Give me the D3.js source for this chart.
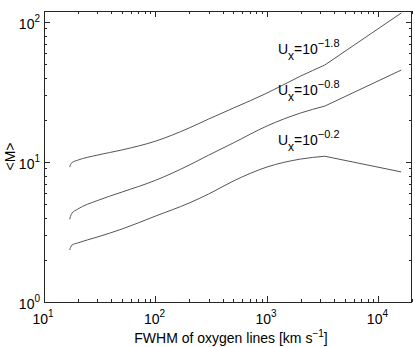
<!DOCTYPE html>
<html><head><meta charset="utf-8">
<script src="https://cdn.jsdelivr.net/npm/d3@7"></script>
<style>body{margin:0;background:#fff}svg{display:block}text{font-family:"Liberation Sans",Arial,sans-serif;fill:#000}</style>
</head><body>
<script>
const fwhm = [17, 17.3, 17.8, 20, 30, 50, 100, 200, 300, 500, 1000, 2000, 3300, 16000];
const mTop = [9.2, 9.6, 9.9, 10.3, 11.2, 12.2, 14.1, 17.5, 20.3, 24.3, 31.1, 41.1, 49.3, 116];
const mMid = [3.9, 4.1, 4.3, 4.6, 5.3, 6.1, 7.4, 9.5, 11.2, 13.7, 18.1, 22.4, 25.1, 45.4];
const mBot = [2.35, 2.45, 2.55, 2.64, 2.91, 3.32, 4.11, 5.09, 5.91, 7.32, 9.21, 10.5, 11.0, 8.5];
const seriesLabels = [["-1.8", 49.3], ["-0.8", 25.1], ["-0.2", 11.0]];
const xTicks = [10, 100, 1000, 10000];
const yTicks = [1, 10, 100];
const xTitle = "FWHM of oxygen lines [km s";
const yTitle = "<M>";

const W = 415, H = 347;
const m = {l: 44, r: 3, t: 11, b: 45};
const svg = d3.select("body").append("svg").attr("width", W).attr("height", H);
const x = d3.scaleLog().domain([10, 2e4]).range([m.l, W - m.r]);
const y = d3.scaleLog().domain([1, 120]).range([H - m.b, m.t]);
const x0 = m.l, x1 = W - m.r, y0 = H - m.b, y1 = m.t;
const axisCol = "#262626";

const g = svg.append("g").attr("stroke", axisCol).attr("stroke-width", 1);
function minorVals(lo, hi) {
  const v = [];
  for (let d = Math.floor(Math.log10(lo)); d <= Math.ceil(Math.log10(hi)); d++)
    for (let k = 1; k < 10; k++) { const t = k * Math.pow(10, d); if (t >= lo && t <= hi) v.push([t, k === 1]); }
  return v;
}
minorVals(10, 2e4).forEach(([t, maj]) => {
  const px = Math.round(x(t)) + 0.5, L = maj ? 6 : 3;
  g.append("line").attr("x1", px).attr("x2", px).attr("y1", y0).attr("y2", y0 - L);
  g.append("line").attr("x1", px).attr("x2", px).attr("y1", y1).attr("y2", y1 + L);
});
minorVals(1, 120).forEach(([t, maj]) => {
  const py = Math.round(y(t)) + 0.5, L = maj ? 6 : 3;
  g.append("line").attr("x1", x0).attr("x2", x0 + L).attr("y1", py).attr("y2", py);
  g.append("line").attr("x1", x1).attr("x2", x1 - L).attr("y1", py).attr("y2", py);
});
svg.append("rect").attr("x", x0 + 0.5).attr("y", y1 + 0.5).attr("width", x1 - x0 - 1).attr("height", y0 - y1)
  .attr("fill", "none").attr("stroke", axisCol).attr("stroke-width", 1);

function pow10(sel, e) {
  sel.append("tspan").text("10");
  sel.append("tspan").attr("dy", -7).attr("font-size", 10).text(e);
}
xTicks.forEach(t => {
  const tx = svg.append("text").attr("x", x(t) - 1).attr("y", y0 + 22).attr("font-size", 14).attr("text-anchor", "middle");
  pow10(tx, Math.round(Math.log10(t)));
});
yTicks.forEach(t => {
  const tx = svg.append("text").attr("x", x0 - 4).attr("y", y(t) + 7).attr("font-size", 14).attr("text-anchor", "end");
  pow10(tx, Math.round(Math.log10(t)));
});

const xt = svg.append("text").attr("x", (x0 + x1) / 2 + 3).attr("y", H - 4).attr("font-size", 14).attr("text-anchor", "middle");
xt.append("tspan").text(xTitle);
xt.append("tspan").attr("dy", -6).attr("font-size", 10).text("\u22121");
xt.append("tspan").attr("dy", 6).text("]");
svg.append("text").attr("transform", `translate(15,${(y0 + y1) / 2}) rotate(-90)`).attr("font-size", 14)
  .attr("text-anchor", "middle").text(yTitle);

// curves: smooth up to the kink, straight after it
const k = fwhm.length - 2;
const smooth = d3.line().curve(d3.curveMonotoneX).x(d => x(d[0])).y(d => y(d[1]));
const straight = d3.line().x(d => x(d[0])).y(d => y(d[1]));
[mTop, mMid, mBot].forEach(s => {
  const pts = fwhm.map((f, i) => [f, s[i]]);
  svg.append("path").attr("d", smooth(pts.slice(0, k + 1)) + straight(pts.slice(k)).replace(/^M/, "L"))
    .attr("fill", "none").attr("stroke", "#555").attr("stroke-width", 1);
});

seriesLabels.forEach(([e, v]) => {
  const tx = svg.append("text").attr("x", x(1000) + 11).attr("y", y(v) - 11).attr("font-size", 14);
  tx.append("tspan").text("U");
  tx.append("tspan").attr("dy", 6).attr("font-size", 12).text("x");
  tx.append("tspan").attr("dy", -6).text("=10");
  tx.append("tspan").attr("dy", -7).attr("font-size", 11).text("\u2212" + e.slice(1));
});
</script>
</body></html>
